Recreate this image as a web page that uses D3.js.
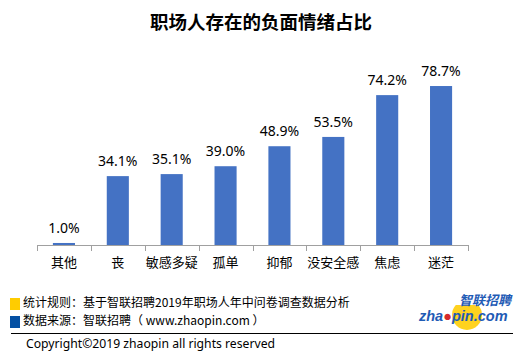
<!DOCTYPE html>
<html><head><meta charset="utf-8">
<script src="https://cdn.jsdelivr.net/npm/d3@7"></script>
<style>body{margin:0;background:#fff}svg{display:block}</style>
</head><body>
<svg id="c" width="529" height="359"></svg>
<script>
const categories = ["其他","丧","敏感多疑","孤单","抑郁","没安全感","焦虑","迷茫"];
const values = [1.0,34.1,35.1,39.0,48.9,53.5,74.2,78.7];
const title = "职场人存在的负面情绪占比";
const notes = ["统计规则：基于智联招聘2019年职场人年中问卷调查数据分析","数据来源：智联招聘（ www.zhaopin.com ）"];
const noteColors = ["#FFCC00","#0450A3"];
const copyright = "Copyright©2019 zhaopin all rights reserved";

const svg = d3.select("#c");
const cjk = "'Noto Sans CJK SC','Noto Sans',sans-serif";
svg.append("text").attr("x",261).attr("y",29).attr("text-anchor","middle")
  .attr("font-family",cjk).attr("font-weight","bold").attr("font-size",18.5).attr("fill","#000").text(title);

const x = d3.scaleBand().domain(categories).range([37,468]).paddingInner(0.59).paddingOuter(0.295);
const y = d3.scaleLinear().domain([0,100]).range([245,43]);

svg.selectAll("rect.bar").data(values).join("rect").attr("class","bar")
  .attr("x",(d,i)=>x(categories[i])).attr("width",x.bandwidth())
  .attr("y",d=>y(d)).attr("height",d=>y(0)-y(d)).attr("fill","#4472C4");

svg.selectAll("text.lab").data(values).join("text").attr("class","lab")
  .attr("x",(d,i)=>x(categories[i])+x.bandwidth()/2).attr("y",d=>y(d)-10)
  .attr("text-anchor","middle").attr("font-family","'Noto Sans',sans-serif").attr("font-size",14).attr("fill","#000")
  .text(d=>d.toFixed(1)+"%");

// axis
const xb = d3.scaleBand().domain(categories).range([37,468]);
const ax = svg.append("g");
ax.append("line").attr("x1",37).attr("x2",468).attr("y1",245.5).attr("y2",245.5).attr("stroke","#A0A0A0");
const edges = categories.map(c=>xb(c)).concat([468]);
ax.selectAll("line.t").data(edges).join("line").attr("class","t")
  .attr("x1",d=>Math.round(d)+0.5).attr("x2",d=>Math.round(d)+0.5).attr("y1",245).attr("y2",251).attr("stroke","#A0A0A0");
ax.selectAll("text").data(categories).join("text")
  .attr("x",d=>xb(d)+xb.bandwidth()/2).attr("y",267).attr("text-anchor","middle")
  .attr("font-family",cjk).attr("font-size",13).attr("fill","#000").text(d=>d);

// notes
notes.forEach((t,i)=>{
  svg.append("rect").attr("x",10).attr("y",298+i*18).attr("width",10).attr("height",12).attr("fill",noteColors[i]);
  svg.append("text").attr("x",23).attr("y",307+i*18).attr("font-family",cjk).attr("font-size",12).attr("fill","#000").text(t);
});
svg.append("line").attr("x1",11).attr("x2",513).attr("y1",333.5).attr("y2",333.5).attr("stroke","#000");
svg.append("text").attr("x",26).attr("y",348).attr("font-family","'Noto Sans',sans-serif").attr("font-size",12.2).attr("fill","#000").text(copyright);

// logo
const lg = svg.append("g");
lg.append("clipPath").attr("id","cl").append("rect").attr("x",400).attr("y",305).attr("width",120).attr("height",26);
lg.append("circle").attr("cx",467).attr("cy",315).attr("r",15).attr("fill","#FFD21F").attr("clip-path","url(#cl)");
lg.append("text").attr("x",459).attr("y",305).attr("font-family",cjk).attr("font-weight","bold").attr("font-style","italic")
  .attr("font-size",13).attr("fill","#1F5BB5").text("智联招聘");
const zt = lg.append("text").attr("x",419).attr("y",321).attr("font-family","'Liberation Sans',Arial,sans-serif")
  .attr("font-weight","bold").attr("font-style","italic").attr("font-size",14.5).attr("fill","#1F5BB5");
zt.append("tspan").text("zha");
zt.append("tspan").attr("fill","#D52B2B").text("●");
zt.append("tspan").text("pin.com");
</script>
</body></html>
